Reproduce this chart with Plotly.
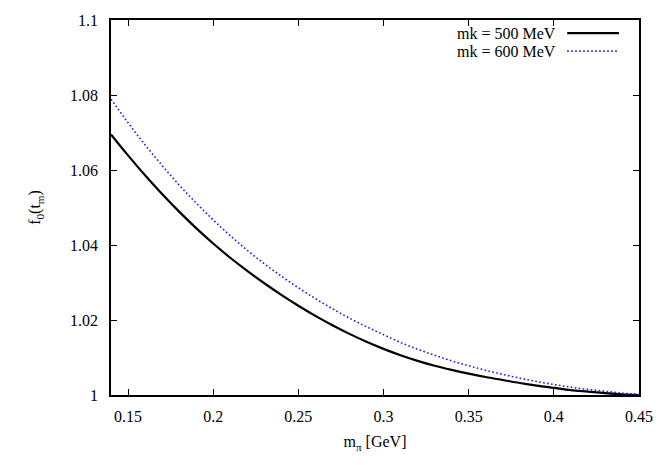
import plotly.graph_objects as go

m_pi = [0.14, 0.15, 0.16, 0.17, 0.18, 0.19, 0.20, 0.21, 0.22, 0.23, 0.24, 0.25,
        0.26, 0.27, 0.28, 0.29, 0.30, 0.31, 0.32, 0.33, 0.34, 0.35, 0.36, 0.37,
        0.38, 0.39, 0.40, 0.41, 0.42, 0.43, 0.44, 0.45]

f0_mk500 = [1.0695, 1.0639, 1.0586, 1.0536, 1.0489, 1.0445, 1.0404, 1.0366,
            1.0331, 1.0298, 1.0267, 1.0238, 1.0211, 1.0186, 1.0163, 1.0142,
            1.0123, 1.0106, 1.0091, 1.0078, 1.0067, 1.0057, 1.0048, 1.0040,
            1.0032, 1.0025, 1.0019, 1.0013, 1.0009, 1.0005, 1.0002, 1.0000]

f0_mk600 = [1.0789, 1.0726, 1.0667, 1.0612, 1.0560, 1.0512, 1.0467, 1.0425,
            1.0386, 1.0350, 1.0317, 1.0286, 1.0257, 1.0230, 1.0205, 1.0182,
            1.0161, 1.0140, 1.0122, 1.0106, 1.0091, 1.0078, 1.0066, 1.0055,
            1.0045, 1.0036, 1.0028, 1.0021, 1.0015, 1.0010, 1.0005, 1.0002]

series_names = ["mk = 500 MeV", "mk = 600 MeV"]

x_ticks = [0.15, 0.2, 0.25, 0.3, 0.35, 0.4, 0.45]
x_ticktext = ["0.15", "0.2", "0.25", "0.3", "0.35", "0.4", "0.45"]
y_ticks = [1.0, 1.02, 1.04, 1.06, 1.08, 1.1]
y_ticktext = ["1", "1.02", "1.04", "1.06", "1.08", "1.1"]

FONT = "Liberation Serif, Times New Roman, serif"

fig = go.Figure()
fig.add_trace(go.Scatter(x=m_pi, y=f0_mk500, mode="lines", name=series_names[0],
                         line=dict(color="black", width=2.2, shape="spline"),
                         showlegend=False))
fig.add_trace(go.Scatter(x=m_pi, y=f0_mk600, mode="lines", name=series_names[1],
                         line=dict(color="#1a1aff", width=1.6, dash="1.6px,2.4px", shape="spline"),
                         showlegend=False))

# gnuplot-style legend: text right-aligned, sample line to the right
legend_y = [0.965, 0.917]
styles = [dict(color="black", width=2.2), dict(color="#1a1aff", width=1.6, dash="1.6px,2.4px")]
for name, yy, st in zip(series_names, legend_y, styles):
    fig.add_annotation(x=0.847, y=yy, xref="paper", yref="paper", text=name,
                       showarrow=False, xanchor="right", yanchor="middle",
                       font=dict(family=FONT, size=16, color="black"))
    fig.add_shape(type="line", xref="paper", yref="paper", x0=0.864, x1=0.962,
                  y0=yy, y1=yy, line=st)

axis_common = dict(showgrid=False, zeroline=False, showline=True, linecolor="black",
                   linewidth=1.5, mirror="allticks", ticks="inside", ticklen=6,
                   tickwidth=1.2, tickcolor="black",
                   tickfont=dict(family=FONT, size=16, color="black"))

fig.update_xaxes(range=[0.14, 0.45], tickvals=x_ticks, ticktext=x_ticktext,
                 title=dict(text="m<sub>π</sub> [GeV]", font=dict(family=FONT, size=16, color="black"),
                            standoff=12),
                 ticklabelstandoff=6, **axis_common)
fig.update_yaxes(range=[1.0, 1.1], tickvals=y_ticks, ticktext=y_ticktext,
                 title=dict(text="f<sub>0</sub>(t<sub>m</sub>)", font=dict(family=FONT, size=16, color="black"),
                            standoff=25),
                 ticklabelstandoff=8, **axis_common)

fig.update_layout(width=664, height=465, plot_bgcolor="white", paper_bgcolor="white",
                  margin=dict(l=111, r=25, t=20, b=70),
                  font=dict(family=FONT, size=16, color="black"))

fig.write_html("out.html", config={"displayModeBar": False},
               post_script="document.body.style.margin='0';document.body.style.overflow='hidden';")
